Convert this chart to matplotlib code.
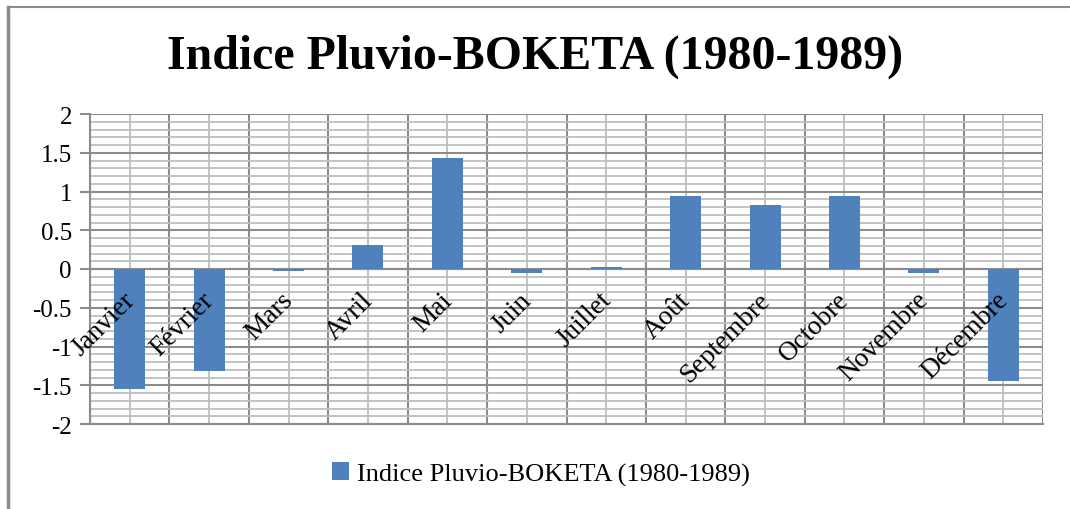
import matplotlib
matplotlib.use("Agg")
import matplotlib.pyplot as plt
import numpy as np
from matplotlib.ticker import MultipleLocator
from matplotlib.lines import Line2D
from matplotlib.patches import Patch
import matplotlib.transforms as mtransforms

months = ["Janvier", "Février", "Mars", "Avril", "Mai", "Juin", "Juillet",
          "Août", "Septembre", "Octobre", "Novembre", "Décembre"]
values = [-1.55, -1.32, -0.02, 0.31, 1.43, -0.05, 0.02, 0.94, 0.83, 0.94, -0.05, -1.44]
title = "Indice Pluvio-BOKETA (1980-1989)"
series_name = "Indice Pluvio-BOKETA (1980-1989)"
yticks = [-2, -1.5, -1, -0.5, 0, 0.5, 1, 1.5, 2]
ytick_labels = ["-2", "-1.5", "-1", "-0.5", "0", "0.5", "1", "1.5", "2"]

plt.rcParams['font.family'] = ['Liberation Serif', 'DejaVu Serif']

W, H = 1070, 510
fig = plt.figure(figsize=(W / 100, H / 100), dpi=100)

left, right, top, bottom = 90, 1043, 115, 425
ax = fig.add_axes([left / W, 1 - bottom / H, (right - left) / W, (bottom - top) / H])

bar_color = "#4F81BD"
x = np.arange(len(months))
ax.bar(x, values, width=0.39, color=bar_color, zorder=3)

ax.set_xlim(-0.5, len(months) - 0.5)
ax.set_ylim(-2, 2)
ax.set_yticks(yticks)
ax.set_yticklabels(ytick_labels, fontsize=18, family=['Liberation Serif'])
ax.yaxis.set_minor_locator(MultipleLocator(0.1))
ax.set_xticks(np.arange(-0.5, len(months), 1.0))
ax.set_xticklabels([])
ax.set_xticks(x, minor=True)

major_c = "#8C8C8C"
minor_c = "#BEBEBE"
ax.grid(which="major", axis="both", color=major_c, linewidth=1.5, zorder=1)
ax.grid(which="minor", axis="both", color=minor_c, linewidth=1.3, zorder=0)
ax.tick_params(axis="y", which="major", length=7, color=major_c, width=1.5, pad=6)
ax.tick_params(axis="y", which="minor", length=0)
ax.tick_params(axis="x", which="both", length=0)
for s in ["top", "right"]:
    ax.spines[s].set_visible(False)
ax.spines["left"].set_color(major_c)
ax.spines["left"].set_linewidth(1.5)
ax.spines["bottom"].set_color(major_c)
ax.spines["bottom"].set_linewidth(1.5)
ax.axhline(0, color=major_c, linewidth=1.5, zorder=2)

# category labels rotated 45°, placed under the zero line
offset = mtransforms.ScaledTranslation(1 / 100, -27 / 100, fig.dpi_scale_trans)
for i, m in enumerate(months):
    ax.text(i, 0, m, rotation=45, rotation_mode="anchor", ha="right", va="center",
            fontsize=19.5, transform=ax.transData + offset, zorder=4)

fig.text(0.5, 1 - 57 / H, title, ha="center", va="center", fontsize=34.5, fontweight="bold")

handle = Patch(facecolor=bar_color, edgecolor="none")
fig.legend([handle], [series_name], loc="center", bbox_to_anchor=(541 / W, 1 - 475 / H),
           frameon=False, fontsize=19, handlelength=0.65, handleheight=0.65, handletextpad=0.3)

# chart border (left and top visible)
fig.add_artist(Line2D([8 / W, 8 / W], [0, 1 - 8 / H], transform=fig.transFigure,
                      color="#8C8C8C", linewidth=2.5))
fig.add_artist(Line2D([8 / W, 1], [1 - 8 / H, 1 - 8 / H], transform=fig.transFigure,
                      color="#8C8C8C", linewidth=1.5))

fig.savefig("out.png", dpi=100)
